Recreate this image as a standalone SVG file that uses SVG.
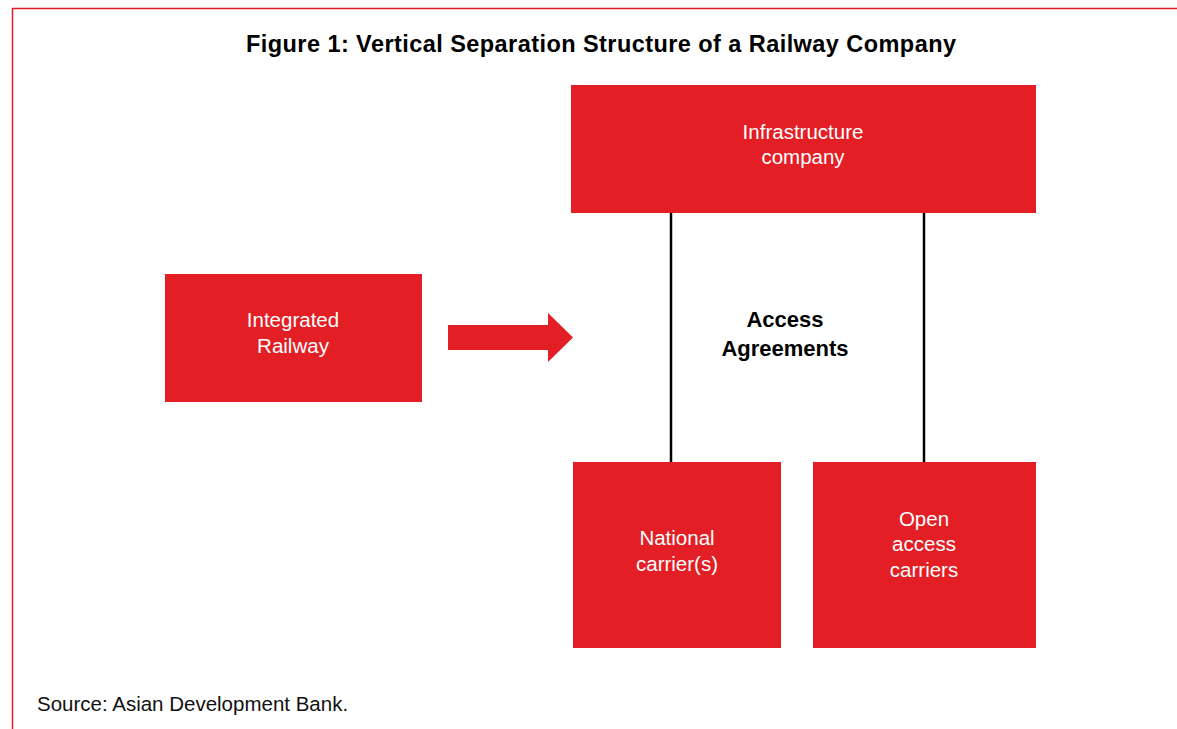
<svg xmlns="http://www.w3.org/2000/svg" width="1177" height="729" viewBox="0 0 1177 729">
<style>
.box{fill:#e31e24}
.lbl{font-family:"Liberation Sans",Arial,sans-serif;font-size:20.5px;fill:#ffffff;text-anchor:middle}
.bold{font-family:"Liberation Sans",Arial,sans-serif;font-weight:bold;fill:#000;text-anchor:middle}
.conn{stroke:#000;stroke-width:2.5;fill:none}
</style>
<rect width="1177" height="729" fill="#fff"/>
<path d="M12.5 729 V8.5 H1177" fill="none" stroke="#e31e24" stroke-width="1.5"/>
<text class="bold" x="601" y="52" font-size="23.5" textLength="710">Figure 1: Vertical Separation Structure of a Railway Company</text>
<g id="connectors">
<line class="conn" x1="671" y1="213" x2="671" y2="462"/>
<line class="conn" x1="924" y1="213" x2="924" y2="462"/>
<path d="M448 325 H548 V313 L573 337.5 L548 362 V350 H448 Z" fill="#e31e24"/>
</g>
<g id="infrastructure">
<rect class="box" x="571" y="85" width="465" height="128"/>
<text class="lbl" x="803" y="139">Infrastructure</text>
<text class="lbl" x="803" y="164">company</text>
</g>
<g id="integrated">
<rect class="box" x="165" y="274" width="257" height="128"/>
<text class="lbl" x="293" y="327">Integrated</text>
<text class="lbl" x="293" y="353">Railway</text>
</g>
<g id="access">
<text class="bold" x="785" y="327" font-size="22">Access</text>
<text class="bold" x="785" y="356" font-size="22">Agreements</text>
</g>
<g id="national">
<rect class="box" x="573" y="462" width="208" height="186"/>
<text class="lbl" x="677" y="545">National</text>
<text class="lbl" x="677" y="571">carrier(s)</text>
</g>
<g id="open">
<rect class="box" x="813" y="462" width="223" height="186"/>
<text class="lbl" x="924" y="526">Open</text>
<text class="lbl" x="924" y="551">access</text>
<text class="lbl" x="924" y="577">carriers</text>
</g>
<text x="37" y="711" font-family="Liberation Sans,Arial,sans-serif" font-size="20.5" fill="#111">Source: Asian Development Bank.</text>
</svg>
